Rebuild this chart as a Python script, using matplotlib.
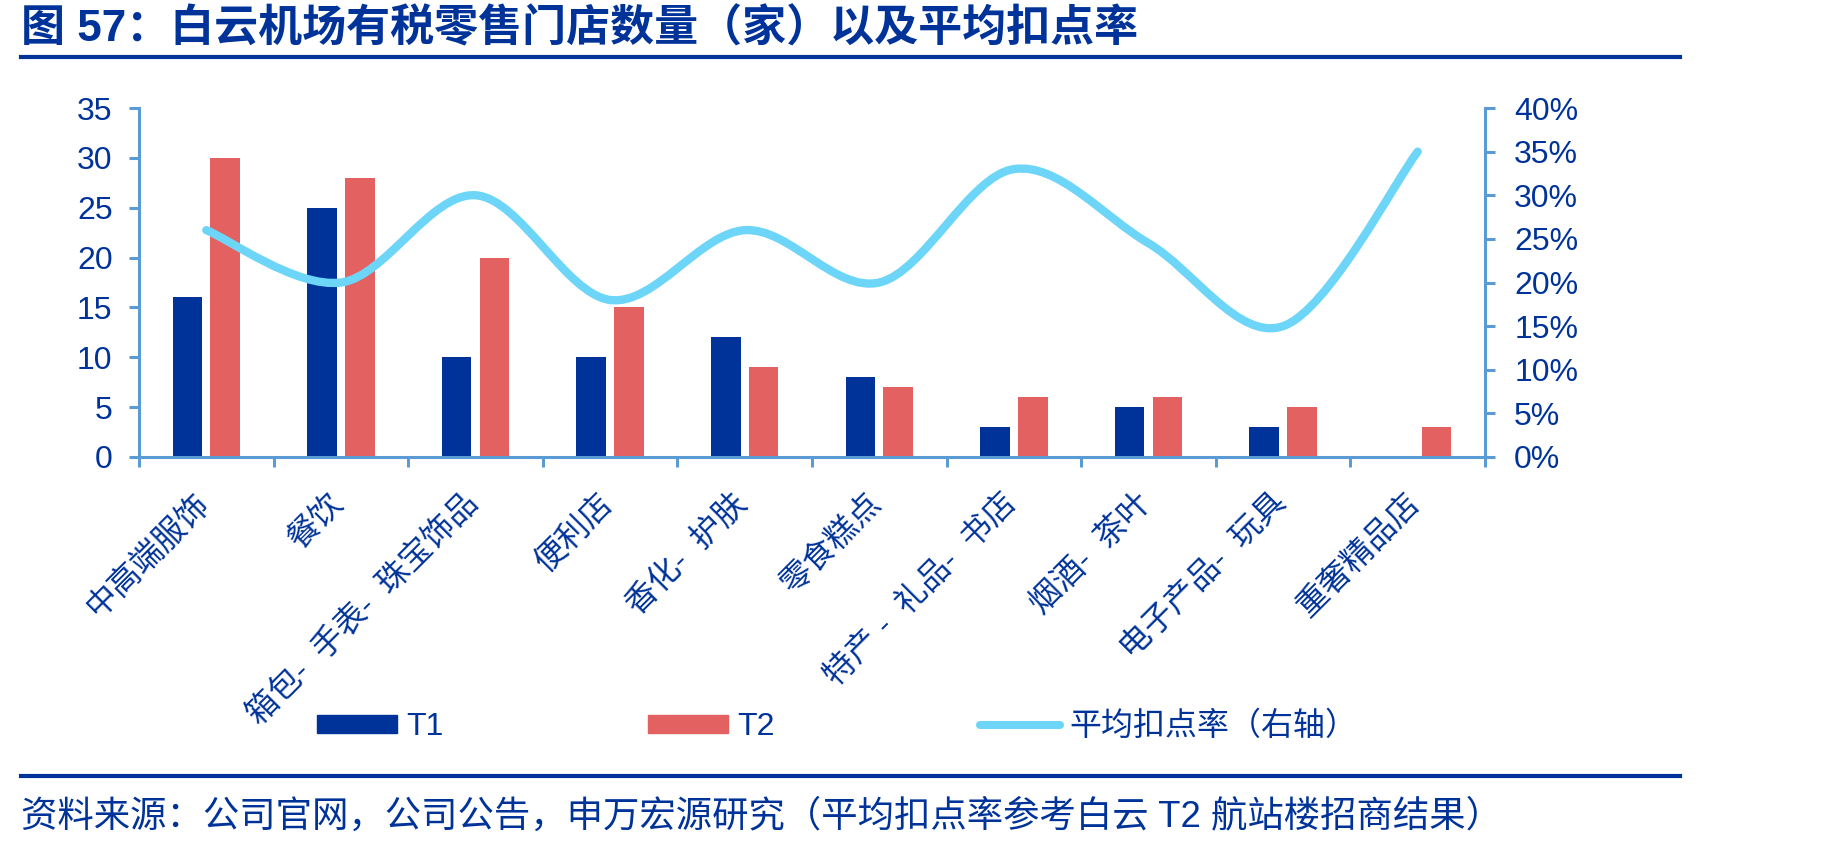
import matplotlib
matplotlib.use("Agg")
import matplotlib.pyplot as plt
import numpy as np
from matplotlib.path import Path
from matplotlib.patches import PathPatch, Patch
from matplotlib.lines import Line2D

plt.rcParams["font.family"] = ["Liberation Sans", "Noto Sans CJK SC"]

# Data
categories = ["中高端服饰", "餐饮", "箱包-  手表-  珠宝饰品", "便利店", "香化-  护肤",
              "零食糕点", "特产 -  礼品-  书店", "烟酒-  茶叶", "电子产品-  玩具", "重奢精品店"]
t1_counts = [16, 25, 10, 10, 12, 8, 3, 5, 3, 0]
t2_counts = [30, 28, 20, 15, 9, 7, 6, 6, 5, 3]
avg_rate = [0.26, 0.20, 0.30, 0.18, 0.26, 0.20, 0.33, 0.245, 0.15, 0.35]

left_ticks = [0, 5, 10, 15, 20, 25, 30, 35]
right_ticks = [0, 0.05, 0.10, 0.15, 0.20, 0.25, 0.30, 0.35, 0.40]

NAVY = "#003399"
RED = "#E46161"
CYAN = "#6DD5F7"
AXIS = "#5B9BD5"

W, H = 1849, 852
fig = plt.figure(figsize=(W / 100, H / 100), dpi=100)

ax = fig.add_axes([139 / W, 1 - 457 / H, (1485 - 139) / W, (457 - 108) / H])
ax2 = ax.twinx()

x = np.arange(len(categories))
ax.bar(x - 0.14, t1_counts, width=0.22, color=NAVY, zorder=2)
ax.bar(x + 0.14, t2_counts, width=0.22, color=RED, zorder=2)

ax.set_xlim(-0.5, len(categories) - 0.5)
ax.set_ylim(0, 35)
ax.set_yticks(left_ticks)
ax.set_yticklabels([str(v) for v in left_ticks])
ax2.set_ylim(0, 0.40)
ax2.set_yticks(right_ticks)
ax2.set_yticklabels([f"{int(round(v * 100))}%" for v in right_ticks])

# smoothed line (Catmull-Rom style bezier, like Excel's smooth line)
pts = list(zip(x.astype(float), avg_rate))
verts = [pts[0]]
codes = [Path.MOVETO]
for i in range(len(pts) - 1):
    p0 = pts[i - 1] if i > 0 else pts[i]
    p1 = pts[i]
    p2 = pts[i + 1]
    p3 = pts[i + 2] if i + 2 < len(pts) else pts[i + 1]
    c1 = (p1[0] + (p2[0] - p0[0]) / 6, p1[1] + (p2[1] - p0[1]) / 6)
    c2 = (p2[0] - (p3[0] - p1[0]) / 6, p2[1] - (p3[1] - p1[1]) / 6)
    verts += [c1, c2, p2]
    codes += [Path.CURVE4] * 3
curve = PathPatch(Path(verts, codes), facecolor="none", edgecolor=CYAN,
                  linewidth=6, capstyle="round", joinstyle="round", zorder=3)
ax2.add_patch(curve)

# spines and ticks
for a in (ax, ax2):
    a.spines["top"].set_visible(False)
    for s in ("left", "right", "bottom"):
        a.spines[s].set_color(AXIS)
        a.spines[s].set_linewidth(2.2)
ax.spines["right"].set_visible(False)
ax2.spines["left"].set_visible(False)
ax2.spines["bottom"].set_visible(False)

ax.set_xticks(np.arange(-0.5, len(categories)))
ax.set_xticklabels([])
ax.tick_params(axis="x", direction="out", length=7, width=2.2, color=AXIS)
ax.tick_params(axis="y", direction="out", length=7, width=2.2, color=AXIS,
               labelsize=23, labelcolor=NAVY, pad=12)
ax2.tick_params(axis="y", direction="out", length=7, width=2.2, color=AXIS,
                labelsize=23, labelcolor=NAVY, pad=14)

for i, name in enumerate(categories):
    ax.annotate(name, xy=(i, 0), xycoords=("data", "axes fraction"),
                xytext=(6.5, -22.5), textcoords="offset points",
                rotation=45, ha="right", va="top", fontsize=23, color=NAVY)

# legend
handles = [Patch(color=NAVY), Patch(color=RED),
           Line2D([], [], color=CYAN, lw=5.8, solid_capstyle="round")]
fig.legend(handles, ["T1", "T2", "平均扣点率（右轴）"], loc="center left",
           bbox_to_anchor=(317 / W, 1 - 727 / H), ncol=3, frameon=False,
           fontsize=23, labelcolor=NAVY, handlelength=2.5, handleheight=0.5,
           handletextpad=0.3, columnspacing=6.4, borderpad=0, borderaxespad=0)

# title and source
fig.text(21 / W, 1 - 29 / H, "图 57：白云机场有税零售门店数量（家）以及平均扣点率",
         fontsize=31.7, fontweight="bold", color=NAVY, ha="left", va="center")
fig.add_artist(Line2D([21 / W, 1680 / W], [1 - 57 / H, 1 - 57 / H],
                      color=NAVY, lw=3, transform=fig.transFigure))
fig.add_artist(Line2D([21 / W, 1680 / W], [1 - 776 / H, 1 - 776 / H],
                      color=NAVY, lw=3, transform=fig.transFigure))
fig.text(21 / W, 1 - 817 / H,
         "资料来源：公司官网，公司公告，申万宏源研究（平均扣点率参考白云 T2 航站楼招商结果）",
         fontsize=26.2, color=NAVY, ha="left", va="center")

fig.savefig("out.png", dpi=100)
